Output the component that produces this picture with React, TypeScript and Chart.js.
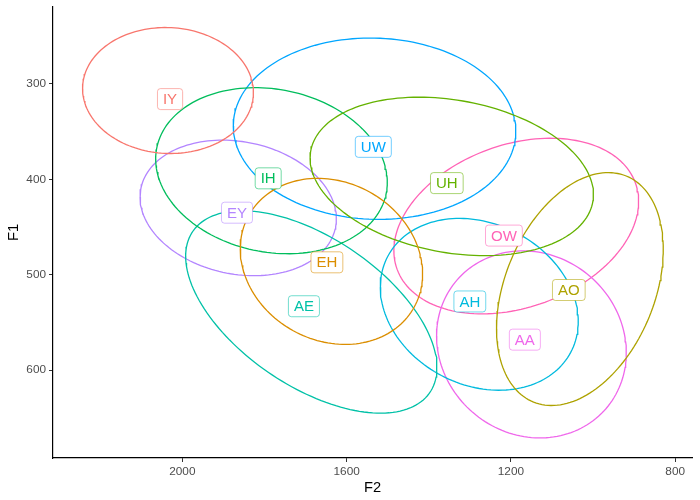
import React, { useEffect, useRef } from 'react';
import { Chart, registerables } from 'chart.js';
Chart.register(...registerables);

// Vowel groups (legend order) and colours
const vowels = ['IY', 'EH', 'AO', 'UH', 'IH', 'AE', 'AH', 'UW', 'EY', 'AA', 'OW'];
const colors = ['#F8766D', '#DB8E00', '#AEA200', '#64B200', '#00BD5C', '#00C1A7', '#00BADE', '#00A6FF', '#B385FF', '#EF67EB', '#FF63B6'];

// Ellipse parameters (data units)
const centerF2 = [2035, 1637, 1032, 1344, 1783, 1686, 1277, 1532, 1864, 1150, 1187];
const centerF1 = [307, 486, 515, 397, 391, 539, 531, 347, 430, 573, 449];
const radiusF2 = [208, 222, 203, 345, 282, 306, 241, 344, 239, 231, 298];
const radiusF1 = [66, 87, 122, 83, 87, 106, 90, 95, 71, 98, 92];
const tiltCos = [-0.03, -0.15, 0.34, -0.23, -0.14, -0.55, -0.2, -0.03, -0.16, -0.09, 0.28];

// Label positions (group means)
const labelF2 = [2030, 1648, 1059, 1356, 1791, 1704, 1300, 1535, 1867, 1166, 1217];
const labelF1 = [316, 487, 516, 404, 399, 533, 528, 366, 435, 568, 459];

// Axis ticks
const xTicks = [800, 1200, 1600, 2000];
const yTicks = [300, 400, 500, 600];

const FONT = '"Liberation Sans", Arial, Helvetica, sans-serif';

function hexA(hex: string, a: number) {
  const r = parseInt(hex.slice(1, 3), 16);
  const g = parseInt(hex.slice(3, 5), 16);
  const b = parseInt(hex.slice(5, 7), 16);
  return `rgba(${r},${g},${b},${a})`;
}

export default function App() {
  const ref = useRef<HTMLCanvasElement>(null);
  useEffect(() => {
    document.body.style.margin = '0';
    const canvas = ref.current!;
    const datasets = vowels.map((v, i) => {
      const c = tiltCos[i];
      const s = Math.sqrt(1 - c * c);
      const pts: { x: number; y: number }[] = [];
      const n = 160;
      for (let k = 0; k <= n; k++) {
        const t = (k / n) * 2 * Math.PI;
        pts.push({
          x: centerF2[i] + radiusF2[i] * Math.cos(t),
          y: centerF1[i] + radiusF1[i] * (Math.cos(t) * c + Math.sin(t) * s),
        });
      }
      return {
        label: v,
        data: pts,
        showLine: true,
        borderColor: colors[i],
        backgroundColor: colors[i],
        borderWidth: 1.3,
        pointRadius: 0,
        pointHoverRadius: 0,
        fill: false,
        tension: 0,
      };
    });

    const labelPlugin = {
      id: 'vowelLabels',
      afterDatasetsDraw(chart: any) {
        const { ctx, scales } = chart;
        const x = scales.x;
        const y = scales.y;
        ctx.save();
        ctx.font = `15px ${FONT}`;
        ctx.textAlign = 'center';
        ctx.textBaseline = 'middle';
        vowels.forEach((v, i) => {
          const px = x.getPixelForValue(labelF2[i]);
          const py = y.getPixelForValue(labelF1[i]);
          const w = ctx.measureText(v).width + 11;
          const h = 21;
          ctx.beginPath();
          ctx.roundRect(px - w / 2, py - h / 2, w, h, 3);
          ctx.fillStyle = '#ffffff';
          ctx.fill();
          ctx.strokeStyle = hexA(colors[i], 0.55);
          ctx.lineWidth = 1;
          ctx.stroke();
          ctx.fillStyle = colors[i];
          ctx.fillText(v, px, py + 1);
        });
        ctx.restore();
      },
    };

    const zeroPad = (scale: any) => {
      scale.paddingTop = 0;
      scale.paddingBottom = 0;
      scale.paddingLeft = 0;
      scale.paddingRight = 0;
    };

    const chart = new Chart(canvas, {
      type: 'scatter',
      data: { datasets: datasets as any },
      plugins: [labelPlugin],
      options: {
        animation: false,
        responsive: false,
        maintainAspectRatio: false,
        layout: { padding: { top: 7, right: 8, left: 0, bottom: 0 } },
        plugins: { legend: { display: false }, tooltip: { enabled: false } },
        scales: {
          x: {
            type: 'linear',
            reverse: true,
            min: 759,
            max: 2315,
            afterBuildTicks: (scale: any) => {
              scale.ticks = xTicks.map((v) => ({ value: v }));
            },
            afterFit: (scale: any) => {
              scale.height = 42;
              zeroPad(scale);
            },
            grid: { drawOnChartArea: false, drawTicks: true, tickLength: 4, color: '#333333', lineWidth: 1 },
            border: { display: true, color: '#000000', width: 1.2 },
            ticks: {
              color: '#4D4D4D',
              font: { family: FONT, size: 11.8 },
              padding: 3,
              maxRotation: 0,
              callback: (value: any) => String(value),
            },
            title: { display: true, text: 'F2', color: '#000000', font: { family: FONT, size: 14.7 }, padding: { top: 0, bottom: 3 } },
          },
          y: {
            type: 'linear',
            reverse: true,
            min: 219.5,
            max: 692,
            afterBuildTicks: (scale: any) => {
              scale.ticks = yTicks.map((v) => ({ value: v }));
            },
            afterFit: (scale: any) => {
              scale.width = 53;
              zeroPad(scale);
            },
            grid: { drawOnChartArea: false, drawTicks: true, tickLength: 4, color: '#333333', lineWidth: 1 },
            border: { display: true, color: '#000000', width: 1.2 },
            ticks: {
              color: '#4D4D4D',
              font: { family: FONT, size: 11.8 },
              padding: 3,
              callback: (value: any) => String(value),
            },
            title: { display: true, text: 'F1', color: '#000000', font: { family: FONT, size: 14.7 }, padding: { top: 5, bottom: 0 } },
          },
        },
      },
    });
    return () => chart.destroy();
  }, []);
  return (
    <div style={{ position: 'fixed', left: 0, top: 0, width: 700, height: 500, background: '#fff' }}>
      <canvas ref={ref} width={700} height={500} />
    </div>
  );
}
